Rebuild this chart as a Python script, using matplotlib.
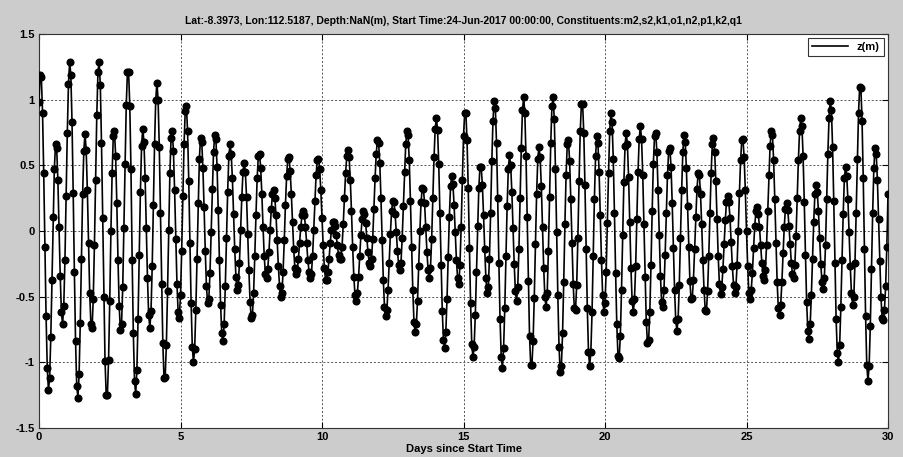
import numpy as np
import matplotlib
matplotlib.use("Agg")
import matplotlib.pyplot as plt

# hourly tidal elevation (m), one row per day, plus the final hour
z_day = [
    [0.98, 1.19, 1.17, 0.90, 0.44, -0.12, -0.65, -1.04, -1.21, -1.12, -0.81, -0.37, 0.11, 0.47, 0.66, 0.63, 0.39, 0.03, -0.34, -0.62, -0.71, -0.57, -0.22, 0.27],
    [0.75, 1.12, 1.29, 1.19, 0.83, 0.29, -0.31, -0.84, -1.18, -1.27, -1.09, -0.70, -0.21, 0.28, 0.61, 0.74, 0.62, 0.31, -0.09, -0.47, -0.71, -0.74, -0.52, -0.11],
    [0.39, 0.88, 1.21, 1.29, 1.11, 0.67, 0.10, -0.50, -0.99, -1.25, -1.25, -0.98, -0.53, 0.00, 0.44, 0.72, 0.76, 0.57, 0.21, -0.22, -0.57, -0.75, -0.71, -0.43],
    [0.02, 0.51, 0.96, 1.21, 1.21, 0.95, 0.47, -0.22, -0.78, -1.14, -1.24, -1.06, -0.67, -0.18, 0.30, 0.65, 0.78, 0.68, 0.40, 0.02, -0.36, -0.64, -0.74, -0.61],
    [-0.27, 0.20, 0.66, 1.00, 1.13, 1.00, 0.64, 0.14, -0.40, -0.85, -1.12, -1.11, -0.87, -0.46, 0.01, 0.44, 0.71, 0.76, 0.61, 0.31, -0.06, -0.40, -0.62, -0.66],
    [-0.49, -0.15, 0.27, 0.66, 0.91, 0.95, 0.76, 0.38, -0.09, -0.55, -0.88, -1.00, -0.90, -0.60, -0.21, 0.21, 0.55, 0.71, 0.68, 0.48, 0.18, -0.15, -0.42, -0.55],
    [-0.52, -0.32, -0.01, 0.32, 0.60, 0.73, 0.70, 0.49, 0.16, -0.22, -0.56, -0.78, -0.84, -0.71, -0.42, -0.05, 0.30, 0.57, 0.66, 0.59, 0.40, 0.13, -0.14, -0.35],
    [-0.45, -0.41, -0.24, 0.01, 0.26, 0.45, 0.52, 0.45, 0.26, -0.02, -0.30, -0.54, -0.66, -0.64, -0.47, -0.19, 0.12, 0.40, 0.57, 0.59, 0.48, 0.28, 0.03, -0.19],
    [-0.33, -0.36, -0.29, -0.16, 0.01, 0.17, 0.28, 0.31, 0.25, 0.12, -0.07, -0.27, -0.42, -0.50, -0.47, -0.31, -0.07, 0.20, 0.42, 0.55, 0.56, 0.46, 0.28, 0.07],
    [-0.14, -0.28, -0.33, -0.30, -0.21, -0.09, 0.03, 0.12, 0.15, 0.12, 0.03, -0.09, -0.22, -0.31, -0.36, -0.33, -0.19, 0.01, 0.23, 0.43, 0.54, 0.55, 0.47, 0.31],
    [0.10, -0.11, -0.28, -0.37, -0.37, -0.31, -0.21, -0.09, 0.01, 0.07, 0.07, 0.04, -0.03, -0.11, -0.18, -0.21, -0.21, -0.12, 0.05, 0.25, 0.44, 0.57, 0.62, 0.56],
    [0.39, 0.15, -0.12, -0.35, -0.49, -0.53, -0.47, -0.35, -0.19, -0.03, 0.09, 0.15, 0.13, 0.06, -0.05, -0.16, -0.24, -0.27, -0.21, -0.06, 0.17, 0.40, 0.59, 0.69],
    [0.67, 0.52, 0.25, -0.07, -0.37, -0.58, -0.65, -0.60, -0.45, -0.24, -0.02, 0.15, 0.23, 0.22, 0.13, -0.01, -0.15, -0.26, -0.30, -0.24, -0.05, 0.19, 0.45, 0.66],
    [0.76, 0.73, 0.54, 0.23, -0.12, -0.45, -0.69, -0.77, -0.71, -0.53, -0.27, 0.00, 0.22, 0.33, 0.32, 0.21, 0.03, -0.16, -0.30, -0.36, -0.28, -0.06, 0.25, 0.56],
    [0.78, 0.86, 0.77, 0.51, 0.14, -0.26, -0.61, -0.83, -0.89, -0.77, -0.52, -0.20, 0.11, 0.34, 0.42, 0.36, 0.20, -0.01, -0.22, -0.36, -0.40, -0.26, 0.03, 0.39],
    [0.72, 0.90, 0.90, 0.69, 0.33, -0.13, -0.55, -0.86, -0.96, -0.88, -0.64, -0.31, 0.04, 0.33, 0.49, 0.49, 0.35, 0.12, -0.14, -0.36, -0.47, -0.43, -0.21, 0.14],
    [0.53, 0.84, 0.99, 0.94, 0.67, 0.25, -0.24, -0.67, -0.96, -1.04, -0.89, -0.59, -0.19, 0.19, 0.47, 0.575, 0.50, 0.30, 0.02, -0.25, -0.46, -0.53, -0.43, -0.14],
    [0.25, 0.63, 0.92, 1.02, 0.90, 0.57, 0.11, -0.38, -0.80, -1.02, -1.02, -0.84, -0.51, -0.10, 0.28, 0.55, 0.64, 0.56, 0.34, 0.03, -0.28, -0.50, -0.58, -0.47],
    [-0.15, 0.26, 0.67, 0.95, 1.02, 0.85, 0.47, -0.01, -0.49, -0.88, -1.07, -1.03, -0.78, -0.39, 0.05, 0.43, 0.66, 0.69, 0.53, 0.24, -0.09, -0.40, -0.59, -0.60],
    [-0.41, -0.05, 0.38, 0.76, 0.97, 0.97, 0.75, 0.35, -0.14, -0.59, -0.92, -1.03, -0.92, -0.62, -0.19, 0.24, 0.57, 0.72, 0.67, 0.45, 0.12, -0.22, -0.49, -0.62],
    [-0.55, -0.31, 0.06, 0.44, 0.76, 0.90, 0.83, 0.55, 0.14, -0.32, -0.71, -0.95, -0.97, -0.80, -0.45, -0.03, 0.37, 0.65, 0.75, 0.66, 0.41, 0.07, -0.28, -0.53],
    [-0.62, -0.52, -0.27, 0.09, 0.45, 0.70, 0.80, 0.70, 0.43, 0.05, -0.35, -0.69, -0.85, -0.83, -0.62, -0.26, 0.15, 0.51, 0.72, 0.75, 0.60, 0.31, -0.03, -0.34],
    [-0.54, -0.58, -0.45, -0.18, 0.14, 0.43, 0.61, 0.63, 0.49, 0.21, -0.13, -0.45, -0.68, -0.76, -0.67, -0.41, -0.05, 0.31, 0.60, 0.73, 0.68, 0.48, 0.19, -0.12],
    [-0.38, -0.52, -0.51, -0.37, -0.14, 0.11, 0.32, 0.44, 0.43, 0.28, 0.05, -0.22, -0.45, -0.60, -0.61, -0.46, -0.19, 0.14, 0.44, 0.66, 0.71, 0.60, 0.38, 0.09],
    [-0.19, -0.40, -0.48, -0.43, -0.29, -0.10, 0.08, 0.22, 0.27, 0.22, 0.10, -0.08, -0.27, -0.41, -0.47, -0.43, -0.26, 0.00, 0.29, 0.54, 0.69, 0.70, 0.56, 0.31],
    [0.00, -0.27, -0.47, -0.52, -0.45, -0.32, -0.13, 0.04, 0.15, 0.18, 0.13, 0.03, -0.11, -0.24, -0.34, -0.37, -0.30, -0.11, 0.15, 0.43, 0.65, 0.76, 0.73, 0.54],
    [0.24, -0.09, -0.39, -0.59, -0.64, -0.56, -0.39, -0.17, 0.03, 0.17, 0.21, 0.16, 0.04, -0.10, -0.24, -0.33, -0.36, -0.26, -0.04, 0.25, 0.54, 0.76, 0.86, 0.80],
    [0.57, 0.22, -0.18, -0.54, -0.76, -0.82, -0.71, -0.49, -0.21, 0.07, 0.28, 0.35, 0.30, 0.15, -0.05, -0.25, -0.39, -0.445, -0.36, -0.11, 0.24, 0.59, 0.86, 0.99],
    [0.92, 0.64, 0.23, -0.24, -0.67, -0.93, -1.00, -0.87, -0.58, -0.22, 0.13, 0.40, 0.49, 0.42, 0.24, -0.01, -0.27, -0.47, -0.56, -0.50, -0.24, 0.14, 0.55, 0.90],
    [1.10, 1.09, 0.84, 0.40, -0.14, -0.65, -1.02, -1.14, -1.03, -0.72, -0.29, 0.14, 0.48, 0.63, 0.59, 0.39, 0.09, -0.23, -0.50, -0.66, -0.68, -0.60, -0.42, -0.12],
]
z_last = 0.28

x_ticks = [0, 5, 10, 15, 20, 25, 30]
y_ticks = [-1.5, -1, -0.5, 0, 0.5, 1, 1.5]
y_tick_labels = ["-1.5", "-1", "-0.5", "0", "0.5", "1", "1.5"]

title = ("Lat:-8.3973, Lon:112.5187, Depth:NaN(m), Start Time:24-Jun-2017 00:00:00, "
         "Constituents:m2,s2,k1,o1,n2,p1,k2,q1")

z = np.append(np.ravel(z_day), z_last)
days = np.arange(len(z)) / 24.0

plt.rcParams["font.family"] = ["Liberation Sans", "DejaVu Sans"]
plt.rcParams["font.weight"] = "bold"

fig = plt.figure(figsize=(9.04, 4.57), dpi=100, facecolor="#cccccc")
ax = fig.add_axes([39 / 904, 29 / 457, 849 / 904, 394 / 457])
ax.set_facecolor("white")

ax.plot(days, z, color="black", lw=1.2, marker="o", ms=4.8, mfc="black",
        mec="black", label="z(m)", zorder=3)

ax.set_xlim(0, 30)
ax.set_ylim(-1.5, 1.5)
ax.set_xticks(x_ticks)
ax.set_xticklabels([str(t) for t in x_ticks])
ax.set_yticks(y_ticks)
ax.set_yticklabels(y_tick_labels)
ax.tick_params(direction="in", length=4, width=0.8, labelsize=8, pad=3,
               top=True, right=True)
for lab in ax.get_xticklabels() + ax.get_yticklabels():
    lab.set_fontweight("bold")
for sp in ax.spines.values():
    sp.set_linewidth(0.8)
    sp.set_color("#333333")

ax.grid(True, color="#555555", linestyle=(0, (2, 2)), linewidth=0.7)
ax.set_axisbelow(True)

ax.set_xlabel("Days since Start Time", fontsize=8, fontweight="bold", labelpad=1)
ax.set_title(title, fontsize=7.5, fontweight="bold", pad=7)

leg = ax.legend(loc="upper right", fontsize=8, frameon=True, fancybox=False,
                handlelength=3.2, handletextpad=0.8, borderpad=0.35,
                borderaxespad=0.4, markerscale=0)
leg.get_frame().set_edgecolor("black")
leg.get_frame().set_linewidth(0.8)
for t in leg.get_texts():
    t.set_fontweight("bold")
for h in leg.legend_handles:
    h.set_marker("")

fig.savefig("out.png", dpi=100, facecolor=fig.get_facecolor())
